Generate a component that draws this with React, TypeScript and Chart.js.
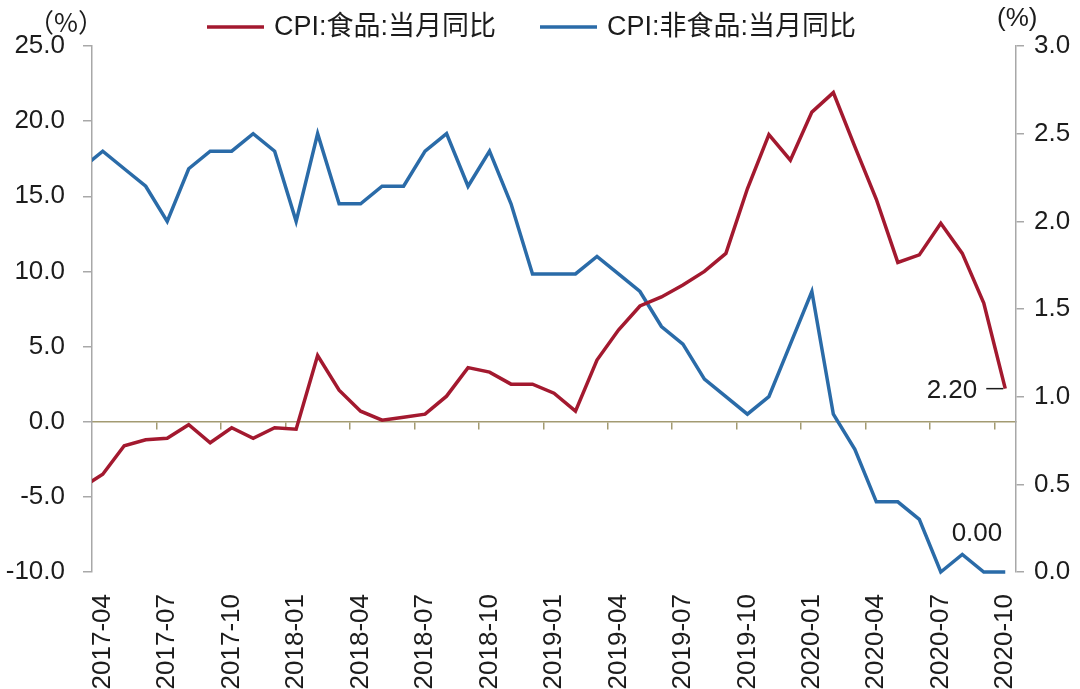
import React, { useEffect, useRef } from 'react';
import { Chart, registerables } from 'chart.js';

Chart.register(...registerables);

// ---- data (index 0 = 2017-03, which lies just left of the visible range and is clipped) ----
const months = [
  '2017-03', '2017-04', '2017-05', '2017-06', '2017-07', '2017-08', '2017-09', '2017-10', '2017-11', '2017-12',
  '2018-01', '2018-02', '2018-03', '2018-04', '2018-05', '2018-06', '2018-07', '2018-08', '2018-09', '2018-10', '2018-11', '2018-12',
  '2019-01', '2019-02', '2019-03', '2019-04', '2019-05', '2019-06', '2019-07', '2019-08', '2019-09', '2019-10', '2019-11', '2019-12',
  '2020-01', '2020-02', '2020-03', '2020-04', '2020-05', '2020-06', '2020-07', '2020-08', '2020-09', '2020-10',
];
const foodYoY = [
  -4.4, -3.5, -1.6, -1.2, -1.1, -0.2, -1.4, -0.4, -1.1, -0.4,
  -0.5, 4.4, 2.1, 0.7, 0.1, 0.3, 0.5, 1.7, 3.6, 3.3, 2.5, 2.5,
  1.9, 0.7, 4.1, 6.1, 7.7, 8.3, 9.1, 10.0, 11.2, 15.5, 19.1, 17.4,
  20.6, 21.9, 18.3, 14.8, 10.6, 11.1, 13.2, 11.2, 7.9, 2.2,
];
const nonFoodYoY = [
  2.3, 2.4, 2.3, 2.2, 2.0, 2.3, 2.4, 2.4, 2.5, 2.4,
  2.0, 2.5, 2.1, 2.1, 2.2, 2.2, 2.4, 2.5, 2.2, 2.4, 2.1, 1.7,
  1.7, 1.7, 1.8, 1.7, 1.6, 1.4, 1.3, 1.1, 1.0, 0.9, 1.0, 1.3,
  1.6, 0.9, 0.7, 0.4, 0.4, 0.3, 0.0, 0.1, 0.0, 0.0,
];
const foodLabel = 'CPI:食品:当月同比';
const nonFoodLabel = 'CPI:非食品:当月同比';
const leftUnit = '（%）';
const rightUnit = '(%)';
const foodLastText = '2.20';
const nonFoodLastText = '0.00';
// x tick labels every 3 months starting at 2017-04 (index 1)
const labelIndices = [1, 4, 7, 10, 13, 16, 19, 22, 25, 28, 31, 34, 37, 40, 43];
// tick marks on the zero line sit between categories, just before each labelled month
const markIndices = [3.5, 6.5, 9.5, 12.5, 15.5, 18.5, 21.5, 24.5, 27.5, 30.5, 33.5, 36.5, 39.5, 42.5];

const RED = '#A3192F';
const BLUE = '#2A6BA8';
const GRAY = '#A8A8A8';
const OLIVE = '#A39B72';
const TEXT = '#1c1c1c';
const LATIN = '"Liberation Sans", Arial, "Noto Sans CJK SC", sans-serif';
const CJK = '"Liberation Sans", "Noto Sans CJK SC", sans-serif';

const overlayPlugin = {
  id: 'overlay',
  afterDraw(chart: any) {
    const ctx = chart.ctx;
    const xs = chart.scales.x;
    const ys = chart.scales.y;
    const y1 = chart.scales.y1;
    ctx.save();
    // legend
    const items = [
      { color: RED, text: foodLabel, x0: 207 },
      { color: BLUE, text: nonFoodLabel, x0: 540 },
    ];
    ctx.font = `27px ${CJK}`;
    ctx.textBaseline = 'middle';
    ctx.textAlign = 'left';
    for (const it of items) {
      ctx.strokeStyle = it.color;
      ctx.lineWidth = 3.5;
      ctx.beginPath();
      ctx.moveTo(it.x0, 27);
      ctx.lineTo(it.x0 + 57, 27);
      ctx.stroke();
      ctx.fillStyle = TEXT;
      ctx.fillText(it.text, it.x0 + 67, 28);
    }
    // units
    ctx.font = `26px "Noto Sans CJK SC", sans-serif`;
    ctx.fillText(leftUnit, 28, 22);
    ctx.font = `26px ${LATIN}`;
    ctx.fillText(rightUnit, 997, 19);
    // end labels
    const last = months.length - 1;
    const px = xs.getPixelForValue(last);
    const pyF = ys.getPixelForValue(foodYoY[last]);
    ctx.strokeStyle = TEXT;
    ctx.lineWidth = 1.5;
    ctx.beginPath();
    ctx.moveTo(px - 19, pyF);
    ctx.lineTo(px - 2, pyF);
    ctx.stroke();
    ctx.font = `26px ${LATIN}`;
    ctx.textAlign = 'right';
    ctx.fillStyle = TEXT;
    ctx.fillText(foodLastText, px - 28, pyF + 2);
    const pyN = y1.getPixelForValue(nonFoodYoY[last]);
    ctx.fillText(nonFoodLastText, px - 3, pyN - 38);
    ctx.restore();
  },
};

export default function App() {
  const ref = useRef<HTMLCanvasElement | null>(null);
  useEffect(() => {
    if (!ref.current) return;
    const font = { family: LATIN, size: 26 };
    const clip = { left: 0, top: false, right: false, bottom: false } as any;
    const chart = new Chart(ref.current, {
      type: 'line',
      data: {
        datasets: [
          {
            label: foodLabel,
            data: months.map((_, i) => ({ x: i, y: foodYoY[i] })),
            borderColor: RED,
            backgroundColor: RED,
            borderWidth: 3.5,
            pointRadius: 0,
            tension: 0,
            xAxisID: 'x',
            yAxisID: 'y',
            clip,
          },
          {
            label: nonFoodLabel,
            data: months.map((_, i) => ({ x: i, y: nonFoodYoY[i] })),
            borderColor: BLUE,
            backgroundColor: BLUE,
            borderWidth: 3.5,
            pointRadius: 0,
            tension: 0,
            xAxisID: 'x',
            yAxisID: 'y1',
            clip,
          },
        ],
      },
      options: {
        responsive: false,
        animation: false,
        events: [],
        layout: { padding: { top: 46, left: 0, right: 0, bottom: 0 } },
        plugins: { legend: { display: false }, tooltip: { enabled: false } },
        scales: {
          x: {
            type: 'linear',
            position: 'bottom',
            min: 0.5,
            max: 43.5,
            afterBuildTicks: (s: any) => {
              s.ticks = labelIndices.map((v) => ({ value: v }));
            },
            ticks: {
              autoSkip: false,
              minRotation: 90,
              maxRotation: 90,
              padding: 14,
              color: TEXT,
              font,
              callback: (v: any) => months[v] ?? '',
            },
            grid: { display: false },
            border: { display: false },
            afterFit: (s: any) => {
              s.height = 117;
            },
          },
          x0: {
            type: 'linear',
            axis: 'x',
            position: { y: 0 },
            min: 0.5,
            max: 43.5,
            afterBuildTicks: (s: any) => {
              s.ticks = markIndices.map((v) => ({ value: v }));
            },
            ticks: { display: false },
            grid: { drawOnChartArea: false, drawTicks: true, tickLength: 7, color: OLIVE, lineWidth: 1.5 },
            border: { display: true, color: OLIVE, width: 1.5 },
            afterFit: (s: any) => {
              s.height = 0;
            },
          },
          y: {
            type: 'linear',
            position: 'left',
            min: -10,
            max: 25,
            ticks: {
              stepSize: 5,
              padding: 18,
              color: TEXT,
              font,
              callback: (v: any) => Number(v).toFixed(1),
            },
            grid: { drawOnChartArea: false, drawTicks: true, tickLength: 9, color: GRAY, lineWidth: 1.5 },
            border: { display: true, color: GRAY, width: 1.5 },
            afterFit: (s: any) => {
              s.width = 92;
            },
          },
          y1: {
            type: 'linear',
            position: 'right',
            min: 0,
            max: 3,
            ticks: {
              stepSize: 0.5,
              padding: 10,
              color: TEXT,
              font,
              callback: (v: any) => Number(v).toFixed(1),
            },
            grid: { drawOnChartArea: false, drawTicks: true, tickLength: 8, color: GRAY, lineWidth: 1.5 },
            border: { display: true, color: GRAY, width: 1.5 },
            afterFit: (s: any) => {
              s.width = 64;
            },
          },
        },
      } as any,
      plugins: [overlayPlugin],
    });
    return () => chart.destroy();
  }, []);
  return (
    <div style={{ position: 'absolute', left: 0, top: 0, width: 1080, height: 689, background: '#fff' }}>
      <canvas ref={ref} width={1080} height={689} style={{ display: 'block' }} />
    </div>
  );
}
